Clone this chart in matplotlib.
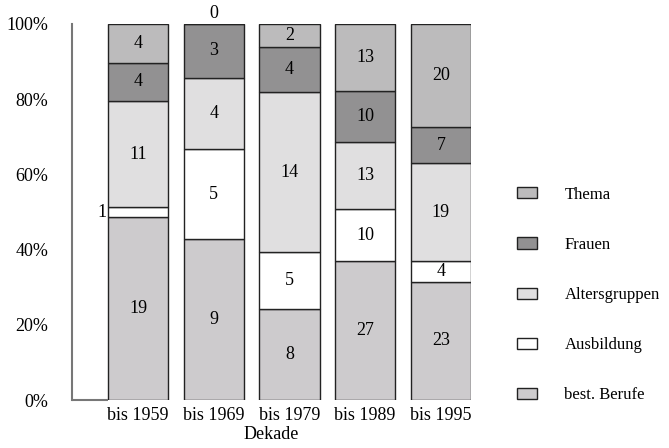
import numpy as np
import matplotlib.pyplot as plt
from matplotlib.patches import Patch

plt.rcParams['font.family'] = ['Liberation Serif', 'DejaVu Serif']

dekaden = ['bis 1959', 'bis 1969', 'bis 1979', 'bis 1989', 'bis 1995']
# stacked bottom to top
berufe = [19, 9, 8, 27, 23]
ausbildung = [1, 5, 5, 10, 4]
altersgruppen = [11, 4, 14, 13, 19]
frauen = [4, 3, 4, 10, 7]
thema = [4, 0, 2, 13, 20]

serien = [berufe, ausbildung, altersgruppen, frauen, thema]
namen = ['best. Berufe', 'Ausbildung', 'Altersgruppen', 'Frauen', 'Thema']
farben = ['#cdcbcd', '#ffffff', '#e0dfe0', '#929192', '#bcbbbc']

werte = np.array(serien, dtype=float)
anteile = werte / werte.sum(axis=0) * 100

fs = 13
fig = plt.figure(figsize=(6.69, 4.48), dpi=100)
ax = fig.add_axes([72/669, 1 - 400/448, (471 - 72)/669, 376/448])

x = np.arange(len(dekaden))
breite = 0.795
unten = np.zeros(len(dekaden))
for i in range(len(serien)):
  ax.bar(x, anteile[i], breite, bottom=unten, color=farben[i],
         edgecolor='#222222', linewidth=1)
  for j in range(len(dekaden)):
    wert = int(werte[i, j])
    mitte = unten[j] + anteile[i, j] / 2
    if wert == 0:
      ax.text(x[j], 100.6, str(wert), ha='center', va='bottom', fontsize=fs)
    elif anteile[i, j] < 4:
      ax.text(x[j] - breite/2 - 0.02, mitte, str(wert), ha='right', va='center', fontsize=fs)
    else:
      ax.text(x[j], mitte, str(wert), ha='center', va='center', fontsize=fs)
  unten += anteile[i]

ax.set_xlim(-0.872, 4 + breite/2)
ax.set_ylim(0, 100)

# axis lines
for s in ['top', 'right', 'bottom']:
  ax.spines[s].set_visible(False)
ax.spines['left'].set_color('#777777')
ax.spines['left'].set_linewidth(1.5)
ax.hlines(0, -0.872, -breite/2, color='#777777', linewidth=1.5, clip_on=False)

ax.set_yticks([0, 20, 40, 60, 80, 100])
ax.set_yticklabels(['0%', '20%', '40%', '60%', '80%', '100%'], fontsize=fs)
ax.set_xticks(x)
ax.set_xticklabels(dekaden, fontsize=fs)
ax.tick_params(axis='y', length=0, pad=17)
ax.tick_params(axis='x', length=0, pad=5)
ax.set_xlabel('Dekade', fontsize=fs, labelpad=1.5)

griffe = [Patch(facecolor=farben[i], edgecolor='#222222', label=namen[i]) for i in range(4, -1, -1)]
fig.legend(handles=griffe, loc='center left', bbox_to_anchor=(502/669, 1 - 295/448),
           frameon=False, fontsize=12, handlelength=1.2, handleheight=0.65,
           handletextpad=1.65, labelspacing=2.05)

fig.savefig('out.png', dpi=100)
